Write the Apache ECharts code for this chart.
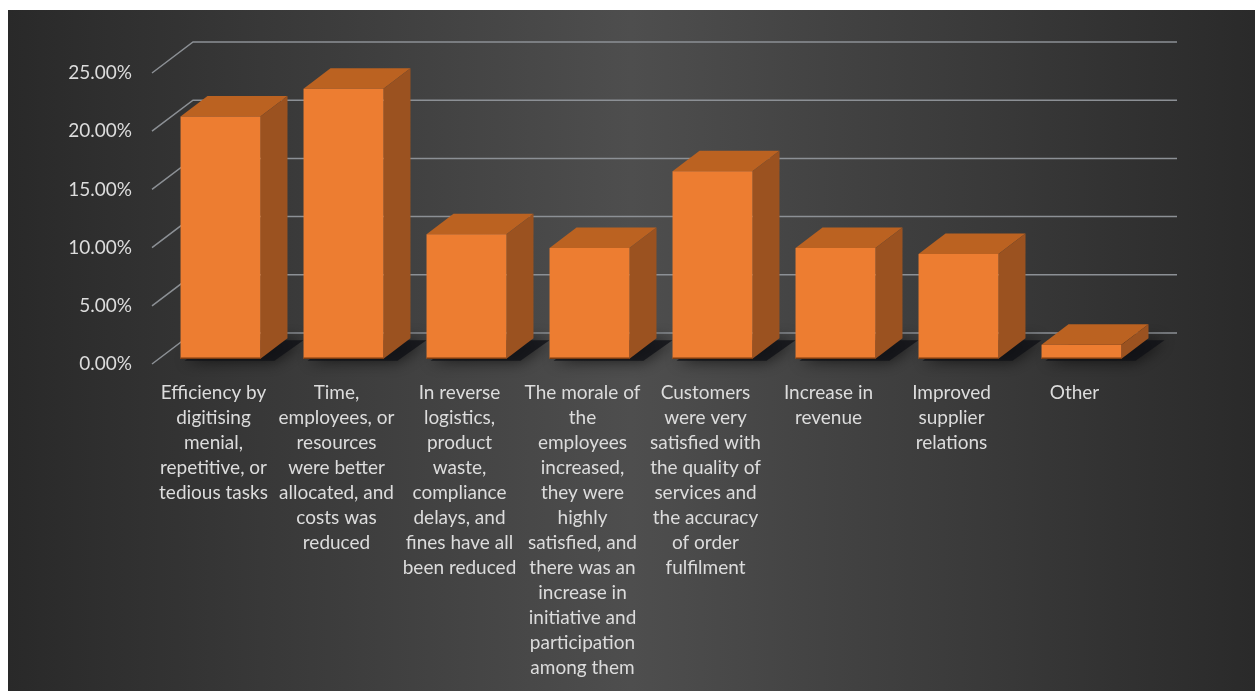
<!DOCTYPE html>
<html>
<head>
<meta charset="utf-8">
<script src="https://cdn.jsdelivr.net/npm/echarts@6/dist/echarts.min.js"></script>
<style>
  html, body { margin: 0; padding: 0; background: #ffffff; }
  #chart { width: 1255px; height: 695px; }
</style>
</head>
<body>
<div id="chart"></div>
<script>
// Reported benefits and their share of all responses
const categories = [
  'Efficiency by\ndigitising\nmenial,\nrepetitive, or\ntedious tasks',
  'Time,\nemployees, or\nresources\nwere better\nallocated, and\ncosts was\nreduced',
  'In reverse\nlogistics,\nproduct\nwaste,\ncompliance\ndelays, and\nfines have all\nbeen reduced',
  'The morale of\nthe\nemployees\nincreased,\nthey were\nhighly\nsatisfied, and\nthere was an\nincrease in\ninitiative and\nparticipation\namong them',
  'Customers\nwere very\nsatisfied with\nthe quality of\nservices and\nthe accuracy\nof order\nfulfilment',
  'Increase in\nrevenue',
  'Improved\nsupplier\nrelations',
  'Other'
];
const shares = [0.208, 0.232, 0.107, 0.095, 0.161, 0.095, 0.090, 0.012];
const gridTicks = [0, 0.05, 0.10, 0.15, 0.20, 0.25];

// Oblique 3D projection of the plot box
const FLOOR_DEPTH = [41, -31];   // front plane -> back wall
const BAR_OFFSET = [7, -5.3];    // front plane -> bar front face
const BAR_DEPTH = [27, -20.5];   // bar front face -> bar back face
const BAR_RATIO = 0.65;

const COLORS = {
  front: '#ED7D31',
  top: '#BB6221',
  side: '#9B5220',
  grid: '#8c9095',
  text: '#dcdcdc'
};

const chart = echarts.init(document.getElementById('chart'), null, { renderer: 'canvas' });

function renderGridLine(params, api) {
  const cs = params.coordSys;
  const y = api.coord([0, api.value(0)])[1];
  const x = cs.x;
  return {
    type: 'polyline',
    shape: {
      points: [
        [x, y],
        [x + FLOOR_DEPTH[0], y + FLOOR_DEPTH[1]],
        [x + cs.width + FLOOR_DEPTH[0], y + FLOOR_DEPTH[1]]
      ]
    },
    style: { stroke: COLORS.grid, lineWidth: 1.5, fill: null }
  };
}

function barBox(api) {
  const idx = api.value(0);
  const top = api.coord([idx, api.value(1)]);
  const base = api.coord([idx, 0]);
  const bw = api.size([1, 0])[0] * BAR_RATIO;
  const x0 = top[0] - bw / 2 + BAR_OFFSET[0];
  return {
    x0: x0,
    x1: x0 + bw,
    yt: top[1] + BAR_OFFSET[1],
    yb: base[1] + BAR_OFFSET[1]
  };
}

// soft shadow cast by each bar onto the floor
function renderShadow(params, api) {
  const b = barBox(api);
  const dx = BAR_DEPTH[0], dy = BAR_DEPTH[1];
  return {
    type: 'polygon',
    shape: {
      points: [
        [b.x0 + 4, b.yb + 2],
        [b.x1 + 14, b.yb + 2],
        [b.x1 + dx + 16, b.yb + dy + 2],
        [b.x0 + dx + 6, b.yb + dy + 2]
      ]
    },
    style: {
      fill: 'rgba(16,18,22,0.8)',
      shadowBlur: 16,
      shadowColor: 'rgba(0,0,0,0.85)'
    }
  };
}

function renderBar(params, api) {
  const b = barBox(api);
  const dx = BAR_DEPTH[0], dy = BAR_DEPTH[1];
  return {
    type: 'group',
    children: [
      {
        type: 'polygon',
        shape: { points: [[b.x0, b.yt], [b.x1, b.yt], [b.x1 + dx, b.yt + dy], [b.x0 + dx, b.yt + dy]] },
        style: { fill: COLORS.top }
      },
      {
        type: 'polygon',
        shape: { points: [[b.x1, b.yt], [b.x1, b.yb], [b.x1 + dx, b.yb + dy], [b.x1 + dx, b.yt + dy]] },
        style: { fill: COLORS.side }
      },
      {
        type: 'rect',
        shape: { x: b.x0, y: b.yt, width: b.x1 - b.x0, height: b.yb - b.yt },
        style: { fill: COLORS.front }
      },
      {
        type: 'line',
        shape: { x1: b.x0, y1: b.yb - 0.5, x2: b.x1, y2: b.yb - 0.5 },
        style: { stroke: '#7a3c12', lineWidth: 1.5 }
      }
    ]
  };
}

const option = {
  backgroundColor: '#ffffff',
  animation: false,
  graphic: [
    {
      type: 'rect',
      z: -100,
      shape: { x: 8, y: 10, width: 1247, height: 681 },
      style: {
        fill: new echarts.graphic.LinearGradient(0, 0, 1, 0, [
          { offset: 0, color: '#292929' },
          { offset: 0.5, color: '#4e4e4e' },
          { offset: 1, color: '#2a2a2a' }
        ])
      }
    }
  ],
  grid: { left: 152, top: 73, width: 984, height: 291 },
  xAxis: {
    type: 'category',
    data: categories,
    axisLine: { show: false },
    axisTick: { show: false },
    splitLine: { show: false },
    axisLabel: {
      interval: 0,
      margin: 16,
      color: COLORS.text,
      fontFamily: 'Lato',
      fontSize: 19,
      lineHeight: 25,
      align: 'center'
    }
  },
  yAxis: {
    type: 'value',
    min: 0,
    max: 0.25,
    interval: 0.05,
    axisLine: { show: false },
    axisTick: { show: false },
    splitLine: { show: false },
    axisLabel: {
      margin: 20,
      color: COLORS.text,
      fontFamily: 'Lato',
      fontSize: 19,
      padding: [6, 0, 0, 0],
      formatter: v => (v * 100).toFixed(2) + '%'
    }
  },
  series: [
    {
      type: 'custom',
      z: 1,
      renderItem: renderGridLine,
      data: gridTicks.map(v => [v]),
      encode: { y: 0 },
      silent: true
    },
    {
      type: 'custom',
      z: 2,
      renderItem: renderShadow,
      data: shares.map((v, i) => [i, v]),
      encode: { x: 0, y: 1 },
      silent: true
    },
    {
      type: 'custom',
      z: 3,
      renderItem: renderBar,
      data: shares.map((v, i) => [i, v]),
      encode: { x: 0, y: 1 }
    }
  ]
};

chart.setOption(option);
</script>
</body>
</html>
